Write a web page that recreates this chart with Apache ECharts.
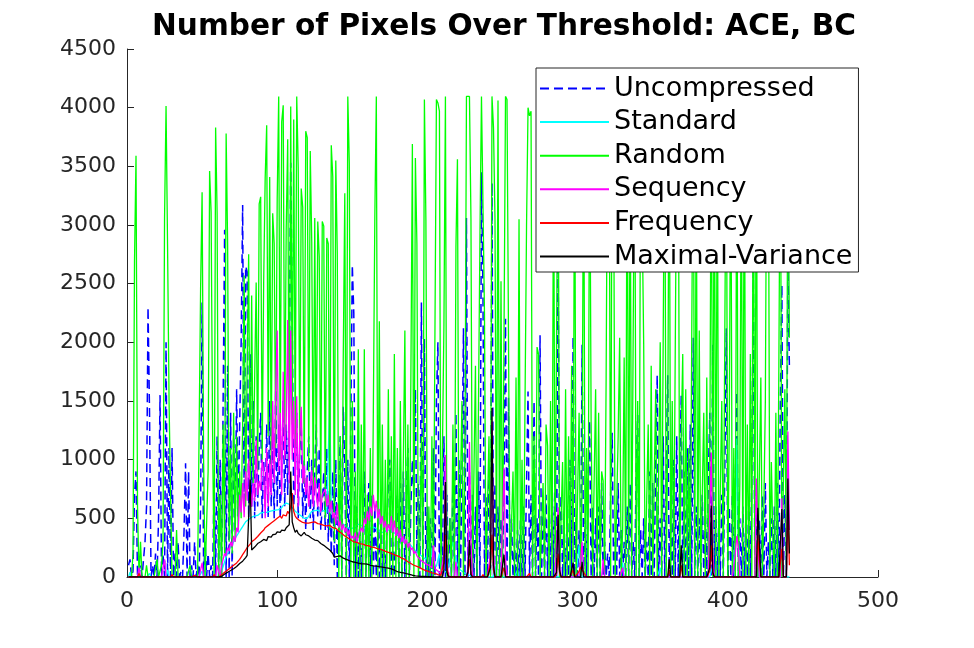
<!DOCTYPE html>
<html>
<head>
<meta charset="utf-8">
<title>Number of Pixels Over Threshold: ACE, BC</title>
<script src="https://cdn.jsdelivr.net/npm/echarts@6/dist/echarts.min.js"></script>
<style>
  html, body { margin: 0; padding: 0; background: #fff; }
  #chart { width: 974px; height: 648px; }
</style>
</head>
<body>
<div id="chart"></div>
<script>
// frame index of the first sample (one per frame)
var xFirst = 1;
var seriesNames = ['Uncompressed', 'Standard', 'Random', 'Sequency', 'Frequency', 'Maximal-Variance'];

var uncompressed = [
  100,150,0,50,700,900,0,50,100,0,
  0,300,600,2300,1400,0,100,0,200,0,
  500,1550,0,200,0,2000,0,1100,0,1100,
  0,200,0,300,0,50,0,400,970,0,
  900,0,100,0,300,0,100,0,600,2340,
  0,300,0,200,0,100,0,800,0,1200,
  0,1000,0,1500,2960,0,1800,0,1400,0,
  1200,400,1600,500,1300,2000,3170,600,2650,2600,
  500,1900,600,1500,500,1200,600,1100,1400,500,
  1000,600,1300,500,1500,600,1200,500,1600,600,
  1300,500,900,1500,600,1300,700,1600,3530,2210,
  600,900,1400,500,1100,1300,500,1000,400,900,
  1200,500,1000,400,900,1300,500,1100,400,600,
  900,400,1100,300,800,200,900,100,1000,0,
  800,1200,0,1450,900,0,1000,0,1300,2660,
  2250,0,600,0,500,0,400,900,0,500,
  800,0,700,0,600,0,500,0,700,0,
  300,0,400,800,1000,0,300,0,400,700,
  0,800,0,900,0,700,1100,0,600,1000,
  700,1600,200,800,0,2340,100,2030,0,600,
  0,500,0,1100,0,1500,2000,0,600,0,
  1200,0,700,0,500,0,800,0,1400,0,
  1000,0,800,2120,0,3060,0,900,0,700,
  0,600,0,900,0,3450,2400,0,700,0,
  900,0,3360,0,800,0,600,0,500,0,
  800,2200,0,1530,0,500,0,300,0,400,
  0,500,0,600,0,800,1580,0,700,0,
  1500,0,500,0,2060,0,600,0,700,0,
  600,0,800,0,1000,0,2900,0,700,0,
  500,0,400,0,1000,0,2050,0,500,0,
  400,0,1980,0,500,0,800,1330,0,600,
  0,500,0,600,0,800,0,300,0,200,
  0,700,1230,0,300,0,800,0,400,0,
  300,0,600,0,800,0,300,0,900,1380,
  0,400,0,500,0,300,0,900,0,800,
  0,1000,1720,0,500,0,1200,0,900,1720,
  0,500,0,1000,0,1200,0,900,1550,0,
  900,0,1100,0,1300,0,2040,0,600,0,
  500,0,700,0,600,0,800,1400,0,1980,
  0,600,0,500,0,700,0,900,2120,0,
  600,0,700,0,800,1580,0,500,0,600,
  0,500,0,700,0,900,2600,0,800,0,
  500,0,700,0,800,0,300,0,500,0,
  600,0,800,0,1500,2490,0,700,0,2700,
  1800
];

var standard = [
  0,40,0,0,0,0,0,0,0,0,
  0,0,0,0,30,0,0,0,0,0,
  0,0,0,0,0,0,60,0,0,0,
  0,0,0,0,0,0,0,0,0,0,
  0,0,0,0,0,0,0,0,0,50,
  0,0,0,0,0,0,0,0,0,0,
  10,20,50,90,130,170,200,230,260,280,
  300,330,350,370,390,410,430,450,470,480,
  490,500,510,505,520,530,525,540,545,540,
  550,545,550,555,560,550,565,560,570,565,
  575,580,590,610,620,630,640,620,600,610,
  580,560,545,540,530,520,510,500,490,500,
  520,540,560,570,565,575,570,560,555,560,
  565,555,550,545,1535,550,530,520,500,490,
  480,470,460,450,440,430,420,410,410,400,
  420,430,445,455,450,440,430,420,410,400,
  410,420,425,430,420,410,400,390,380,375,
  380,390,400,410,400,390,380,385,370,360,
  350,340,330,320,310,300,290,280,270,260,
  240,230,210,200,190,180,170,160,150,140,
  300,120,250,110,100,90,80,200,70,60,
  50,45,40,35,150,250,300,200,150,100,
  80,60,50,40,30,25,20,15,10,5,
  0,0,0,0,0,0,0,0,0,0,
  0,0,0,0,100,0,0,0,0,0,
  0,0,0,0,0,0,0,0,0,60,
  0,0,0,0,0,0,0,0,0,0,
  0,0,0,0,0,0,0,0,0,0,
  0,0,0,0,0,0,0,0,0,0,
  0,0,0,0,0,0,0,0,0,150,
  270,100,0,0,0,0,0,0,0,0,
  0,0,0,0,0,0,0,0,0,0,
  0,0,0,0,0,0,0,0,0,120,
  0,0,0,0,0,0,0,0,0,0,
  0,0,0,0,0,0,0,0,0,0,
  0,0,0,0,80,0,0,0,0,0,
  0,0,0,0,0,0,0,0,0,0,
  0,0,0,0,0,0,0,0,0,0,
  0,0,0,0,0,0,0,0,0,100,
  0,0,0,0,0,0,0,0,0,0,
  0,0,0,0,300,1180,400,0,0,0,
  0,0,0,0,0,0,0,0,0,150,
  0,0,0,0,0,0,0,0,0,0,
  0,0,0,0,0,200,0,0,0,0,
  0
];

var random = [
  0,0,0,200,2690,3590,600,0,300,0,
  0,0,100,0,0,0,0,0,0,150,
  0,0,100,300,3060,4015,2830,1500,700,0,
  0,0,400,0,0,0,0,0,0,0,
  0,100,0,0,0,0,0,0,2455,3280,
  1000,0,0,900,3460,3110,1200,0,3830,3100,
  0,700,0,1300,200,3780,2830,300,1100,200,
  1400,300,1200,400,900,500,1300,2570,600,1800,
  2750,700,2400,800,1700,2510,900,3180,3240,1000,
  2520,3400,3850,1200,3410,900,3100,2840,1100,3220,
  4096,1000,3880,4020,1200,2960,3730,900,4010,1300,
  3900,1100,4096,3490,1000,3310,3150,800,3800,3745,
  900,3630,2850,700,3060,800,3030,2730,600,3030,
  2990,500,2890,2840,400,3680,3410,300,3550,2760,
  0,1200,0,1900,3270,0,4096,3530,0,1500,
  0,900,0,1940,0,1300,0,1940,0,700,
  0,1100,0,1400,3070,4096,0,2180,0,1300,
  0,1000,0,1600,0,1200,0,1900,0,1100,
  0,1500,0,1000,2100,0,1300,0,1700,3690,
  0,3570,2840,0,300,1200,0,4070,3040,0,
  600,0,1200,0,0,4070,4040,3970,0,0,
  2140,4096,0,0,500,0,1300,0,2810,3560,
  0,0,1500,0,1000,4096,4096,4096,3050,0,
  0,1800,0,0,2920,4096,4096,2250,0,0,
  1200,0,4096,3830,3050,0,4060,0,2520,0,
  0,4096,4070,4080,0,0,900,0,1700,0,
  3050,0,1000,0,0,2990,4000,3930,3970,0,
  1200,0,1960,1900,0,0,800,0,1300,1120,
  0,1500,0,3800,0,0,4096,0,0,980,
  0,1600,0,1200,0,1800,0,4096,0,0,
  1400,0,800,4096,0,1100,0,4096,1330,0,
  0,1600,0,1400,0,900,820,0,1700,4096,
  3900,0,4096,3500,0,0,1200,2040,0,400,
  1870,0,4096,0,3700,0,0,4096,0,1500,
  0,4096,4096,1990,0,0,1300,0,1800,0,
  0,1600,0,900,2000,0,0,4096,0,1200,
  4096,0,1500,0,0,3800,4096,0,1200,1900,
  0,1600,0,1100,0,0,4096,0,3600,0,
  2100,0,0,1400,0,1700,0,900,4096,0,
  4096,0,3800,0,0,1500,0,0,4096,0,
  1300,3900,0,1100,0,4096,0,800,3700,0,
  4096,0,1300,0,1900,0,4096,0,4096,0,
  0,1700,0,600,1500,4096,3900,0,980,330,
  0,1400,0,1800,4096,0,0,1600,0,4096,
  2040
];

var sequency = [
  0,0,0,0,0,0,0,80,0,0,
  0,0,0,0,0,0,0,0,0,0,
  0,0,0,0,150,0,0,0,0,0,
  0,0,0,0,0,0,0,0,0,0,
  0,0,0,0,0,0,0,0,0,120,
  0,0,0,0,0,0,0,0,0,100,
  50,0,100,150,200,180,250,220,300,260,
  350,300,420,380,700,550,800,510,900,650,
  1000,750,600,800,650,1170,700,820,740,1000,
  900,500,1100,600,1000,700,1500,800,1600,2100,
  900,1400,700,1750,1000,1300,2190,800,2100,1000,
  1500,700,1540,600,1200,1450,800,950,700,850,
  600,800,910,600,850,700,600,800,550,700,
  700,750,600,700,550,650,500,550,450,620,
  420,480,400,450,380,420,350,400,330,350,
  320,380,300,350,340,420,380,500,450,560,
  480,600,520,700,560,650,500,580,450,520,
  420,480,380,450,400,520,380,480,350,420,
  330,400,300,350,280,320,250,290,230,250,
  200,220,180,190,150,160,130,140,110,120,
  100,90,80,270,70,60,50,40,30,20,
  200,1040,150,0,0,0,0,0,130,0,
  0,0,0,0,0,0,80,1150,300,0,
  0,0,0,0,0,0,0,0,0,0,
  0,200,1320,200,0,0,0,0,0,0,
  930,150,0,0,0,0,0,0,0,0,
  0,0,0,0,0,0,0,0,0,0,
  0,0,0,0,0,0,0,0,0,0,
  0,0,0,0,0,0,590,100,0,0,
  0,0,0,0,0,0,0,0,0,0,
  0,0,300,0,0,0,0,0,0,0,
  0,0,0,0,0,0,150,0,0,0,
  0,0,0,0,0,0,0,0,0,80,
  0,0,0,0,0,0,0,0,0,0,
  0,0,0,0,0,0,0,0,0,0,
  0,0,0,0,0,0,0,0,0,0,
  0,0,0,0,0,0,0,0,0,0,
  0,0,0,0,0,0,0,0,0,0,
  0,0,0,0,0,0,0,0,1060,200,
  0,0,0,0,0,0,0,0,0,0,
  0,0,0,0,200,350,250,0,0,0,
  0,0,0,0,0,0,0,0,840,300,
  0,0,0,0,0,0,0,0,0,0,
  0,0,0,0,0,670,0,0,0,1240,
  400
];

var frequency = [
  0,0,0,0,0,0,0,30,0,0,
  0,0,0,0,0,0,0,0,0,0,
  0,0,0,0,0,0,0,0,0,20,
  0,0,0,0,0,0,0,0,0,0,
  0,0,0,0,15,0,0,0,0,0,
  0,0,0,0,0,0,0,20,0,0,
  0,5,20,30,40,50,60,70,80,90,
  100,110,120,135,150,170,190,210,230,250,
  260,280,300,310,320,330,345,360,375,390,
  400,420,430,440,450,460,470,480,490,500,
  510,520,500,530,545,520,560,540,600,715,
  560,520,500,490,480,470,465,470,460,455,
  460,470,465,475,470,460,455,450,450,445,
  440,445,435,430,440,425,420,410,415,400,
  390,380,370,360,350,345,335,325,315,310,
  300,305,295,290,285,290,280,275,270,270,
  265,260,255,250,250,245,240,240,235,230,
  225,220,215,210,205,200,195,190,185,180,
  175,170,160,155,150,140,130,125,115,110,
  100,95,90,85,80,70,65,60,55,50,
  45,40,35,30,30,25,20,20,15,10,
  120,360,80,10,5,0,0,0,0,0,
  0,0,0,0,0,0,40,150,30,0,
  0,0,0,0,0,0,20,0,0,0,
  0,120,360,60,0,0,0,0,0,0,
  80,0,0,0,0,0,0,0,0,0,
  0,0,0,0,0,0,0,30,0,0,
  0,0,0,0,0,0,0,0,0,0,
  0,0,0,0,0,30,200,40,0,0,
  0,0,0,0,0,0,60,0,0,30,
  50,85,60,40,20,0,0,0,0,0,
  0,0,0,0,0,0,0,0,0,0,
  0,0,0,0,0,0,0,0,0,0,
  0,0,0,0,0,0,0,0,0,0,
  0,0,0,0,0,0,0,0,0,0,
  0,0,0,0,0,0,0,0,0,0,
  60,0,0,0,0,0,0,0,100,0,
  0,0,0,0,0,0,0,0,0,0,
  0,0,0,0,0,0,0,50,270,30,
  0,0,0,0,0,0,0,0,0,0,
  0,0,0,0,0,0,0,0,0,0,
  0,0,0,0,0,0,0,0,0,360,
  150,0,0,0,0,0,0,0,0,0,
  0,0,0,0,0,240,0,0,0,590,
  100
];

var maximalVariance = [
  0,0,0,0,0,0,0,0,0,0,
  0,0,0,0,0,0,0,0,0,0,
  0,0,0,0,0,0,0,0,0,0,
  0,0,0,0,0,0,0,0,0,0,
  0,0,0,0,0,0,0,0,0,0,
  0,0,0,0,0,0,0,0,0,0,
  0,0,5,15,25,30,40,45,55,60,
  70,80,90,100,115,120,135,150,165,185,
  200,830,230,245,255,270,285,295,300,315,
  320,330,310,345,350,340,360,375,365,385,
  390,380,400,410,395,420,430,445,900,470,
  420,380,400,370,360,350,365,380,360,375,
  350,340,330,320,315,300,310,295,285,290,
  270,260,250,240,230,220,200,170,180,175,
  190,180,170,160,160,150,145,140,135,130,
  128,125,120,118,115,112,110,112,108,110,
  105,100,98,95,95,92,90,88,85,85,
  82,80,78,76,75,70,65,58,50,45,
  42,40,38,35,30,28,25,22,18,15,
  12,10,10,8,8,6,5,5,4,3,
  2,2,1,0,0,0,0,0,0,0,
  60,810,40,0,0,0,0,0,0,0,
  0,0,0,0,0,0,50,315,20,0,
  0,0,0,0,0,0,0,0,0,0,
  0,80,1440,100,0,0,0,0,0,0,
  190,0,0,0,0,0,0,0,0,0,
  0,0,0,0,0,0,0,0,0,0,
  0,0,0,0,0,0,0,0,0,0,
  0,0,0,0,0,40,530,60,0,0,
  0,0,0,0,0,0,120,0,0,0,
  0,0,130,0,0,0,0,0,0,0,
  0,0,0,0,0,0,0,0,0,0,
  0,0,0,0,0,0,0,0,0,0,
  0,0,0,0,0,0,0,0,0,0,
  0,0,0,0,0,0,0,0,0,0,
  0,0,0,0,0,0,0,0,0,0,
  150,0,0,0,0,0,0,0,270,0,
  0,0,0,0,0,0,0,0,0,0,
  0,0,0,0,0,0,0,80,610,40,
  0,0,0,0,0,0,0,0,0,0,
  0,0,0,0,0,0,0,0,0,0,
  0,0,0,0,0,0,0,0,0,590,
  300,0,0,0,0,0,0,0,0,0,
  0,0,0,0,0,580,0,0,0,840,
  200
];

function toPoints(values) {
  return values.map(function (v, i) {
    return [xFirst + i, v];
  });
}

function lineSeries(name, values, color, dash) {
  return {
    name: name,
    type: 'line',
    data: toPoints(values),
    symbol: 'none',
    showSymbol: false,
    silent: true,
    itemStyle: { color: color },
    lineStyle: { color: color, width: dash ? 1.5 : 1.3, type: dash ? [9, 5] : 'solid' }
  };
}

var myChart = echarts.init(document.getElementById('chart'));
var axisColor = '#262626';
var font = 'DejaVu Sans';

var option = {
  animation: false,
  backgroundColor: '#fff',
  title: {
    text: 'Number of Pixels Over Threshold: ACE, BC',
    left: 499,
    top: 7,
    textAlign: 'center',
    textStyle: { fontFamily: font, fontWeight: 'bold', fontSize: 29.6, color: '#000' }
  },
  legend: {
    orient: 'vertical',
    left: 536,
    top: 68,
    padding: [7, 6, 2, 3],
    itemWidth: 69,
    itemHeight: 26,
    itemGap: 6.6,
    backgroundColor: '#fff',
    borderColor: axisColor,
    borderWidth: 1,
    borderRadius: 0,
    itemStyle: { opacity: 0 },
    textStyle: { fontFamily: font, fontSize: 27, lineHeight: 26, color: '#000' },
    data: seriesNames
  },
  grid: { left: 127, right: 96, top: 49, bottom: 71, containLabel: false },
  xAxis: {
    type: 'value',
    min: 0,
    max: 500,
    interval: 100,
    axisLine: { lineStyle: { color: axisColor, width: 1 } },
    axisTick: { inside: true, length: 7, lineStyle: { color: axisColor } },
    axisLabel: { margin: 13, fontFamily: font, fontSize: 22, color: axisColor },
    splitLine: { show: false }
  },
  yAxis: {
    type: 'value',
    min: 0,
    max: 4500,
    interval: 500,
    axisLine: { show: true, lineStyle: { color: axisColor, width: 1 } },
    axisTick: { show: true, inside: true, length: 7, lineStyle: { color: axisColor } },
    axisLabel: {
      margin: 11, fontFamily: font, fontSize: 22, color: axisColor,
      formatter: function (v) { return String(v); }
    },
    splitLine: { show: false }
  },
  series: [
    lineSeries(seriesNames[0], uncompressed, '#0000ff', true),
    lineSeries(seriesNames[1], standard, '#00ffff', false),
    lineSeries(seriesNames[2], random, '#00ff00', false),
    lineSeries(seriesNames[3], sequency, '#ff00ff', false),
    lineSeries(seriesNames[4], frequency, '#ff0000', false),
    lineSeries(seriesNames[5], maximalVariance, '#000000', false)
  ]
};

if (option && typeof option === 'object') {
  myChart.setOption(option, true);
}
</script>
</body>
</html>
